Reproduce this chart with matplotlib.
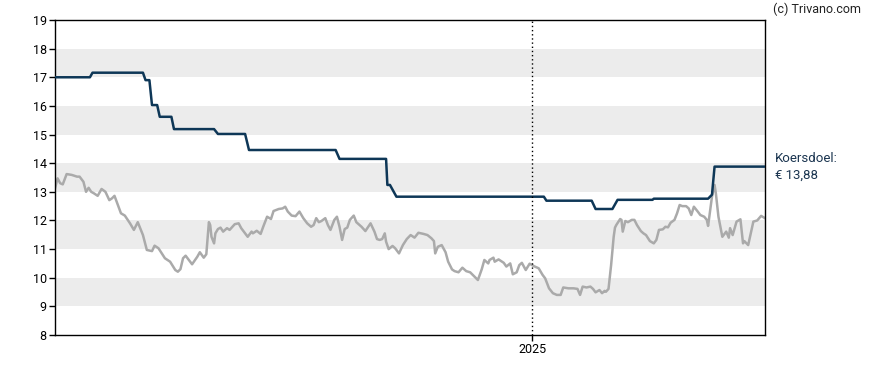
import pandas as pd
import matplotlib.pyplot as plt
import matplotlib.dates as mdates

plt.rcParams['font.family'] = ['Roboto', 'DejaVu Sans']

# share price (grey line)
price_dates = [
    "2023-12-29", "2023-12-31", "2024-01-02", "2024-01-04", "2024-01-07", "2024-01-11",
    "2024-01-15", "2024-01-17", "2024-01-20", "2024-01-22", "2024-01-24", "2024-01-26",
    "2024-01-28", "2024-01-31", "2024-02-03", "2024-02-06", "2024-02-09", "2024-02-11",
    "2024-02-13", "2024-02-18", "2024-02-21", "2024-02-25", "2024-02-28", "2024-03-02",
    "2024-03-06", "2024-03-09", "2024-03-13", "2024-03-15", "2024-03-18", "2024-03-23",
    "2024-03-27", "2024-03-31", "2024-04-02", "2024-04-04", "2024-04-06", "2024-04-08",
    "2024-04-13", "2024-04-17", "2024-04-19", "2024-04-22", "2024-04-24", "2024-04-26",
    "2024-04-27", "2024-04-28", "2024-04-30", "2024-05-01", "2024-05-03", "2024-05-05",
    "2024-05-07", "2024-05-10", "2024-05-12", "2024-05-16", "2024-05-19", "2024-05-21",
    "2024-05-24", "2024-05-26", "2024-05-29", "2024-05-30", "2024-06-02", "2024-06-05",
    "2024-06-07", "2024-06-10", "2024-06-13", "2024-06-15", "2024-06-19", "2024-06-22",
    "2024-06-24", "2024-06-26", "2024-06-29", "2024-07-02", "2024-07-05", "2024-07-08",
    "2024-07-11", "2024-07-14", "2024-07-16", "2024-07-18", "2024-07-20", "2024-07-22",
    "2024-07-25", "2024-07-27", "2024-07-29", "2024-08-01", "2024-08-03", "2024-08-05",
    "2024-08-07", "2024-08-09", "2024-08-11", "2024-08-13", "2024-08-16", "2024-08-18",
    "2024-08-22", "2024-08-25", "2024-08-29", "2024-09-01", "2024-09-03", "2024-09-05",
    "2024-09-07", "2024-09-09", "2024-09-10", "2024-09-12", "2024-09-15", "2024-09-17",
    "2024-09-20", "2024-09-23", "2024-09-26", "2024-09-29", "2024-10-02", "2024-10-05",
    "2024-10-09", "2024-10-12", "2024-10-15", "2024-10-17", "2024-10-18", "2024-10-20",
    "2024-10-23", "2024-10-26", "2024-10-28", "2024-10-31", "2024-11-02", "2024-11-05",
    "2024-11-08", "2024-11-11", "2024-11-14", "2024-11-16", "2024-11-20", "2024-11-23",
    "2024-11-25", "2024-11-28", "2024-11-29", "2024-12-02", "2024-12-03", "2024-12-06",
    "2024-12-08", "2024-12-10", "2024-12-12", "2024-12-15", "2024-12-17", "2024-12-20",
    "2024-12-22", "2024-12-24", "2024-12-27", "2024-12-30", "2025-01-01", "2025-01-03",
    "2025-01-06", "2025-01-09", "2025-01-11", "2025-01-14", "2025-01-17", "2025-01-20",
    "2025-01-23", "2025-01-25", "2025-01-29", "2025-02-02", "2025-02-05", "2025-02-07",
    "2025-02-09", "2025-02-12", "2025-02-15", "2025-02-17", "2025-02-19", "2025-02-22",
    "2025-02-24", "2025-02-26", "2025-02-27", "2025-03-01", "2025-03-03", "2025-03-05",
    "2025-03-06", "2025-03-07", "2025-03-10", "2025-03-11", "2025-03-12", "2025-03-14",
    "2025-03-16", "2025-03-19", "2025-03-21", "2025-03-23", "2025-03-26", "2025-03-28",
    "2025-03-30", "2025-04-02", "2025-04-05", "2025-04-07", "2025-04-09", "2025-04-12",
    "2025-04-14", "2025-04-16", "2025-04-18", "2025-04-21", "2025-04-23", "2025-04-25",
    "2025-04-27", "2025-04-30", "2025-05-02", "2025-05-04", "2025-05-06", "2025-05-09",
    "2025-05-11", "2025-05-14", "2025-05-16", "2025-05-17", "2025-05-20", "2025-05-22",
    "2025-05-23", "2025-05-25", "2025-05-28", "2025-05-31", "2025-06-02", "2025-06-03",
    "2025-06-05", "2025-06-08", "2025-06-11", "2025-06-13", "2025-06-14", "2025-06-17",
    "2025-06-21", "2025-06-24", "2025-06-27", "2025-06-30",
]
price_values = [
    13.12, 13.47, 13.30, 13.26, 13.62, 13.59,
    13.53, 13.53, 13.35, 13.00, 13.14, 13.00,
    12.95, 12.86, 13.10, 13.00, 12.71, 12.77,
    12.86, 12.25, 12.17, 11.90, 11.67, 11.94,
    11.49, 10.97, 10.93, 11.12, 11.03, 10.68,
    10.56, 10.27, 10.21, 10.30, 10.68, 10.77,
    10.47, 10.73, 10.89, 10.70, 10.82, 11.94,
    11.84, 11.43, 11.20, 11.55, 11.70, 11.75,
    11.61, 11.73, 11.67, 11.87, 11.90, 11.73,
    11.55, 11.43, 11.61, 11.55, 11.64, 11.53,
    11.78, 12.13, 12.05, 12.33, 12.40, 12.42,
    12.48, 12.31, 12.17, 12.15, 12.31, 12.08,
    11.90, 11.78, 11.84, 12.08, 11.94, 11.98,
    12.08, 11.84, 11.67, 12.02, 12.13, 11.78,
    11.32, 11.70, 11.75, 12.02, 12.17, 11.94,
    11.78, 11.63, 11.90, 11.61, 11.35, 11.32,
    11.35, 11.55, 11.26, 11.00, 11.11, 11.03,
    10.85, 11.14, 11.35, 11.49, 11.40, 11.57,
    11.53, 11.49, 11.38, 11.28, 10.85, 11.08,
    11.14, 10.89, 10.56, 10.29, 10.23, 10.19,
    10.35, 10.23, 10.19, 10.10, 9.92, 10.30,
    10.62, 10.50, 10.62, 10.70, 10.56, 10.64,
    10.58, 10.52, 10.39, 10.50, 10.12, 10.19,
    10.44, 10.52, 10.27, 10.49, 10.44, 10.39,
    10.33, 10.10, 9.98, 9.63, 9.46, 9.40,
    9.40, 9.66, 9.63, 9.63, 9.61, 9.40,
    9.69, 9.66, 9.69, 9.61, 9.49, 9.57,
    9.46, 9.54, 9.51, 9.61, 10.44, 11.43,
    11.75, 11.84, 12.05, 12.02, 11.61, 11.98,
    11.94, 12.02, 12.02, 11.84, 11.63, 11.55,
    11.49, 11.28, 11.20, 11.32, 11.67, 11.69,
    11.78, 11.76, 11.92, 12.02, 12.25, 12.54,
    12.50, 12.50, 12.42, 12.19, 12.48, 12.31,
    12.19, 12.13, 12.02, 11.81, 12.83, 13.24,
    12.95, 12.13, 11.43, 11.61, 11.40, 11.73,
    11.49, 11.96, 12.04, 11.20, 11.28, 11.14,
    11.96, 12.00, 12.16, 12.08,
]

# analysts' price target (dark blue line)
target_dates = [
    "2023-12-29", "2024-01-25", "2024-01-27", "2024-03-06", "2024-03-08", "2024-03-11",
    "2024-03-13", "2024-03-17", "2024-03-19", "2024-03-28", "2024-03-30", "2024-04-30",
    "2024-05-03", "2024-05-24", "2024-05-27", "2024-08-02", "2024-08-05", "2024-09-10",
    "2024-09-11", "2024-09-13", "2024-09-18", "2025-01-10", "2025-01-12", "2025-02-16",
    "2025-02-19", "2025-03-04", "2025-03-08", "2025-04-04", "2025-04-05", "2025-05-17",
    "2025-05-20", "2025-05-22", "2025-06-30",
]
target_values = [
    17.00, 17.00, 17.16, 17.16, 16.90, 16.90,
    16.03, 16.03, 15.62, 15.62, 15.19, 15.19,
    15.02, 15.02, 14.46, 14.46, 14.15, 14.15,
    13.24, 13.24, 12.83, 12.83, 12.69, 12.69,
    12.40, 12.40, 12.72, 12.72, 12.76, 12.76,
    12.90, 13.88, 13.88,
]

target_label = "Koersdoel:\n€ 13,88"
year_tick = "2025-01-01"

price_x = pd.to_datetime(price_dates)
target_x = pd.to_datetime(target_dates)

fig = plt.figure(figsize=(8.88, 3.70), dpi=100)
ax = fig.add_axes([55 / 888, 35 / 370, 710 / 888, 315 / 370])

# alternating grey bands
for lo in range(9, 19, 2):
    ax.axhspan(lo, lo + 1, color="#ececec", lw=0, zorder=0)

ax.plot(price_x, price_values, color="#aaaaaa", linewidth=1.8, zorder=2)
ax.plot(target_x, target_values, color="#0e3757", linewidth=1.8, zorder=3)

yr = pd.Timestamp(year_tick)
ax.axvline(yr, color="black", linewidth=1, linestyle=(0, (1, 2)), zorder=4)

ax.set_xlim(pd.Timestamp("2023-12-29"), pd.Timestamp("2025-06-30"))
ax.set_ylim(8, 19)
ax.set_yticks(range(8, 20))
ax.set_xticks([yr])
ax.xaxis.set_major_formatter(mdates.DateFormatter("%Y"))
ax.tick_params(axis="both", labelsize=9, length=4, width=1, color="black", pad=2)

for s in ax.spines.values():
    s.set_color("black")
    s.set_linewidth(1)

fig.text(773 / 888, 1 - 9 / 370, "(c) Trivano.com", fontsize=9,
         color="#222222", va="center", ha="left")
fig.text(775 / 888, 1 - 167 / 370, target_label, fontsize=9.5,
         color="#1b3550", va="center", ha="left", linespacing=1.45)

plt.savefig("out.png", dpi=100)
